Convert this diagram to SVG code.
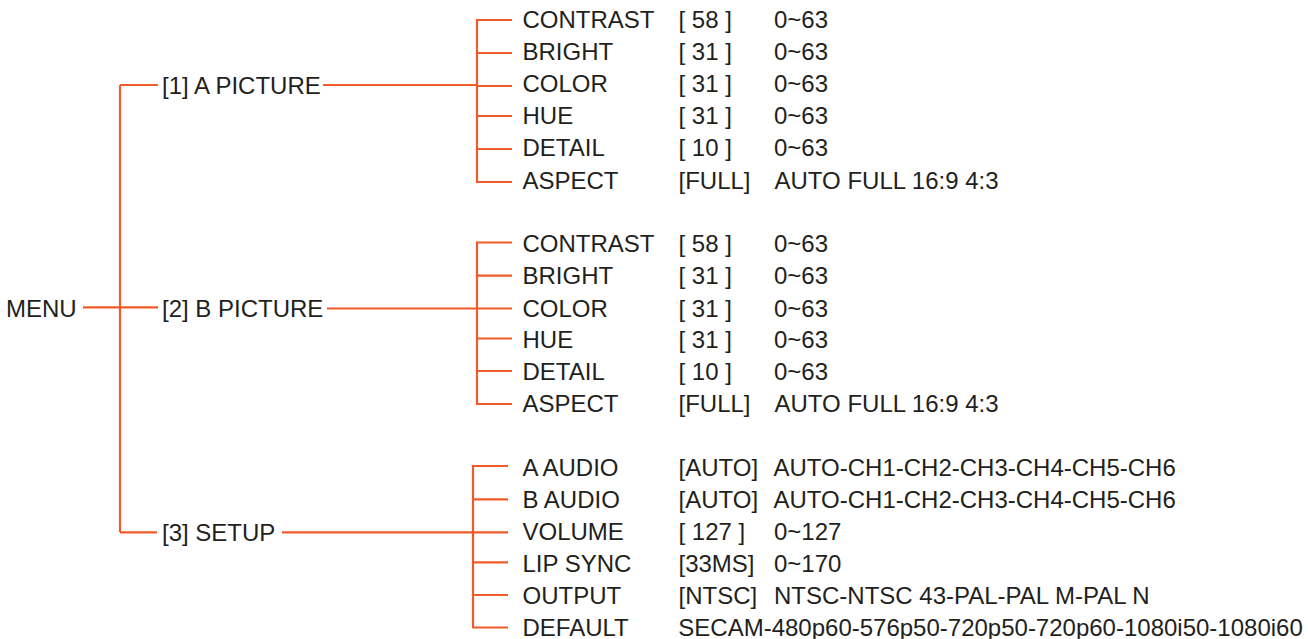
<svg xmlns="http://www.w3.org/2000/svg" width="1308" height="639" viewBox="0 0 1308 639">
<style>
text{font-family:"Liberation Sans",Arial,Helvetica,sans-serif;font-size:24px;fill:#231f20}
.ln{fill:none;stroke:#f15a29;stroke-width:2.2}
</style>
<rect width="1308" height="639" fill="#ffffff"/>
<g id="connectors" class="ln">
<path d="M120,85 V532.3"/>
<path d="M120,85 H158"/>
<path d="M323,85 H477"/>
<path d="M83,307.3 H158"/>
<path d="M327,308.5 H477"/>
<path d="M120,532.3 H157"/>
<path d="M282,532.3 H473"/>
<path d="M512,20 H477 V182 H512 M477,53 H512 M477,86 H512 M477,116 H512 M477,149 H512"/>
<path d="M512,242.5 H477 V404 H512 M477,275.7 H512 M477,308.5 H512 M477,338.5 H512 M477,371 H512"/>
<path d="M508,466 H473 V627.5 H508 M473,499.3 H508 M473,532.3 H508 M473,562.3 H508 M473,595 H508"/>
</g>
<g id="menu"><text x="6" y="316.7">MENU</text></g>
<g id="a-picture"><text x="162" y="94">[1] A PICTURE</text></g>
<g id="b-picture"><text x="162" y="316.7">[2] B PICTURE</text></g>
<g id="setup"><text x="162" y="541">[3] SETUP</text></g>
<g id="a-items">
<text x="522.5" y="27.5">CONTRAST</text><text x="678.5" y="27.5">[ 58 ]</text><text x="774" y="27.5">0~63</text>
<text x="522.5" y="60">BRIGHT</text><text x="678.5" y="60">[ 31 ]</text><text x="774" y="60">0~63</text>
<text x="522.5" y="92">COLOR</text><text x="678.5" y="92">[ 31 ]</text><text x="774" y="92">0~63</text>
<text x="522.5" y="124">HUE</text><text x="678.5" y="124">[ 31 ]</text><text x="774" y="124">0~63</text>
<text x="522.5" y="156">DETAIL</text><text x="678.5" y="156">[ 10 ]</text><text x="774" y="156">0~63</text>
<text x="522.5" y="188.5">ASPECT</text><text x="678.5" y="188.5">[FULL]</text><text x="774.5" y="188.5">AUTO FULL 16:9 4:3</text>
</g>
<g id="b-items">
<text x="522.5" y="252.3">CONTRAST</text><text x="678.5" y="252.3">[ 58 ]</text><text x="774" y="252.3">0~63</text>
<text x="522.5" y="284.3">BRIGHT</text><text x="678.5" y="284.3">[ 31 ]</text><text x="774" y="284.3">0~63</text>
<text x="522.5" y="316.7">COLOR</text><text x="678.5" y="316.7">[ 31 ]</text><text x="774" y="316.7">0~63</text>
<text x="522.5" y="347.7">HUE</text><text x="678.5" y="347.7">[ 31 ]</text><text x="774" y="347.7">0~63</text>
<text x="522.5" y="380">DETAIL</text><text x="678.5" y="380">[ 10 ]</text><text x="774" y="380">0~63</text>
<text x="522.5" y="411.7">ASPECT</text><text x="678.5" y="411.7">[FULL]</text><text x="774.5" y="411.7">AUTO FULL 16:9 4:3</text>
</g>
<g id="setup-items">
<text x="522.5" y="476">A AUDIO</text><text x="678.5" y="476">[AUTO]</text><text x="773.5" y="476">AUTO-CH1-CH2-CH3-CH4-CH5-CH6</text>
<text x="522.5" y="508.3">B AUDIO</text><text x="678.5" y="508.3">[AUTO]</text><text x="773.5" y="508.3">AUTO-CH1-CH2-CH3-CH4-CH5-CH6</text>
<text x="522.5" y="540">VOLUME</text><text x="678.5" y="540">[ 127 ]</text><text x="774" y="540">0~127</text>
<text x="522.5" y="571.7">LIP SYNC</text><text x="678.5" y="571.7">[33MS]</text><text x="774" y="571.7">0~170</text>
<text x="522.5" y="604">OUTPUT</text><text x="678.5" y="604">[NTSC]</text><text x="774" y="604">NTSC-NTSC 43-PAL-PAL M-PAL N</text>
<text x="522.5" y="635.5">DEFAULT</text><text x="678.3" y="635.5">SECAM-480p60-576p50-720p50-720p60-1080i50-1080i60</text>
</g>
</svg>
